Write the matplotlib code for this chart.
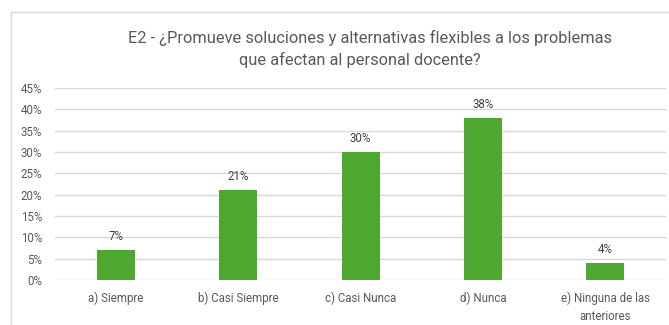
import matplotlib
matplotlib.use("Agg")
import matplotlib.pyplot as plt
from matplotlib.lines import Line2D
from matplotlib.ticker import PercentFormatter, MultipleLocator

categories = ["a) Siempre", "b) Casi Siempre", "c) Casi Nunca", "d) Nunca",
              "e) Ninguna de las\nanteriores"]
values = [7, 21, 30, 38, 4]
title_lines = ["E2 - ¿Promueve soluciones y alternativas flexibles a los problemas",
               "que afectan al personal docente?"]

W, H = 669, 325
fig = plt.figure(figsize=(W / 100, H / 100), dpi=100)
fig.patch.set_facecolor("white")

text_color = "#595959"
grid_color = "#D9D9D9"
bar_color = "#4EA72E"
narrow = ["Roboto", "DejaVu Sans"]

# chart frame (left and top edges visible)
fig.add_artist(Line2D([10.5 / W, 10.5 / W], [0, 1 - 12 / H], transform=fig.transFigure,
                      color=grid_color, lw=1))
fig.add_artist(Line2D([10.5 / W, 1], [1 - 12 / H, 1 - 12 / H], transform=fig.transFigure,
                      color=grid_color, lw=1))

left, right = 54.8 / W, 666.3 / W
bottom, top = 1 - 280 / H, 1 - 88 / H
ax = fig.add_axes([left, bottom, right - left, top - bottom])

x = range(len(categories))
bars = ax.bar(x, values, width=0.31, color=bar_color, zorder=3)
ax.set_xlim(-0.5, len(categories) - 0.5)
ax.set_ylim(0, 45)
ax.yaxis.set_major_locator(MultipleLocator(5))
ax.yaxis.set_major_formatter(PercentFormatter(decimals=0))
ax.grid(axis="y", color=grid_color, lw=1, zorder=0)
for s in ax.spines.values():
    s.set_visible(False)
ax.tick_params(length=0, colors=text_color, labelsize=8)
ax.tick_params(axis="y", pad=9)
ax.tick_params(axis="x", pad=8)
ax.set_xticks(list(x))
ax.set_xticklabels(categories, family=narrow, fontsize=8.3, color=text_color,
                   linespacing=1.5)
for lbl in ax.get_yticklabels():
    lbl.set_family(narrow)
    lbl.set_fontsize(8.3)

for b, v in zip(bars, values):
    ax.annotate(f"{v}%", (b.get_x() + b.get_width() / 2, v), xytext=(0, 5),
                textcoords="offset points", ha="center", va="bottom",
                fontsize=8.3, family=narrow, color="#404040")

# two-line chart title
for (cx, cy), line in zip([(370, 38), (360, 60)], title_lines):
    fig.text(cx / W, 1 - cy / H, line, ha="center", va="center", fontsize=11.8,
             family=narrow, color=text_color)

fig.savefig("out.png", dpi=100)
